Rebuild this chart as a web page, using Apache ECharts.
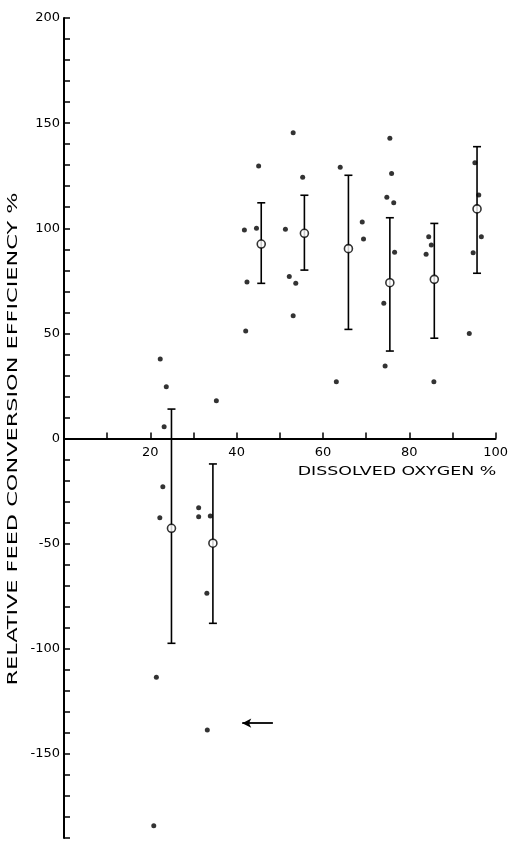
<!DOCTYPE html>
<html lang="en">
<head>
    <meta charset="UTF-8">
    <title>feed conversion</title>
    <script src="https://cdn.jsdelivr.net/npm/echarts@6/dist/echarts.min.js"></script>
    <style>
        html, body { margin: 0; padding: 0; background: #fff; }
    </style>
</head>
<body>
<div id="chart" style="width: 511px;height:845px;"></div>
<script type="text/javascript">

    // single observations [dissolved oxygen %, relative efficiency %]
    var points = [
        [22.3, 37.8], [23.7, 24.6], [23.2, 5.6], [22.9, -22.9], [22.2, -37.7], [21.4, -113.6], [20.8, -184.2],
        [35.3, 18.0], [31.2, -32.9], [31.2, -37.2], [33.9, -36.9], [33.1, -73.6], [33.2, -138.6],
        [45.1, 129.6], [41.8, 99.2], [44.6, 100], [42.4, 74.4], [42.1, 51.1],
        [53.1, 145.4], [55.3, 124.2], [51.3, 99.5], [52.2, 77], [53.7, 73.8], [53.1, 58.4],
        [64.0, 129], [69.1, 103], [69.4, 94.9], [63.1, 27.0],
        [75.5, 142.8], [75.9, 126.1], [74.8, 114.7], [76.4, 112.1], [76.6, 88.6], [74.1, 64.3], [74.4, 34.5],
        [84.5, 96], [85.1, 92], [83.9, 87.6], [85.7, 27.0],
        [95.2, 131.2], [96.1, 115.8], [96.7, 96], [94.8, 88.4], [93.9, 50.0]
    ];

    // group means
    var meanX = [24.9, 34.5, 45.7, 55.7, 65.9, 75.5, 85.8, 95.7];
    var meanY = [-42.7, -49.8, 92.5, 97.6, 90.3, 74.1, 75.7, 109.2];
    // error bar ends
    var barLow = [-97.4, -87.9, 73.8, 80.1, 51.9, 41.6, 47.7, 78.6];
    var barHigh = [14.0, -12.1, 112.1, 115.7, 125.2, 105.0, 102.3, 138.8];

    // arrow drawn on the figure
    var arrowFrom = [48.4, -135.4];
    var arrowTo = [41.3, -135.4];

    var xTickLabels = [20, 40, 60, 80, 100];
    var yTickLabels = [-150, -100, -50, 0, 50, 100, 150, 200];

    var means = [];
    var bars = [];
    for (var i = 0; i < meanX.length; i++) {
        means.push([meanX[i], meanY[i]]);
        bars.push([meanX[i], barLow[i], barHigh[i]]);
    }

    var font = 'DejaVu Sans';
    var yMin = -190, yMax = 200;
    var gridTop = 18, gridBottom = 7, chartH = 845;
    // x axis sits on y = 0, labels included
    var plotH = chartH - gridTop - gridBottom;
    var zeroOffset = -plotH * (0 - yMin) / (yMax - yMin);

    var myChart = echarts.init(document.getElementById('chart'));
    var option = {
        backgroundColor: '#fff',
        animation: false,
        grid: {
            left: 64,
            right: 14,
            top: gridTop,
            bottom: gridBottom
        },
        xAxis: {
            type: 'value',
            min: 0,
            max: 100,
            interval: 10,
            offset: zeroOffset,
            axisLine: {onZero: false, lineStyle: {color: '#000', width: 2}},
            axisTick: {inside: true, length: 6, lineStyle: {color: '#000', width: 1.5}},
            splitLine: {show: false},
            axisLabel: {
                color: '#000',
                fontFamily: font,
                fontSize: 13,
                margin: 8,
                formatter: function (v) {
                    return xTickLabels.indexOf(v) >= 0 ? String(v) : '';
                }
            }
        },
        yAxis: {
            type: 'value',
            min: yMin,
            max: yMax,
            interval: 10,
            axisLine: {lineStyle: {color: '#000', width: 2}},
            axisTick: {inside: true, length: 6, lineStyle: {color: '#000', width: 1.5}},
            splitLine: {show: false},
            axisLabel: {
                color: '#000',
                fontFamily: font,
                fontSize: 13,
                margin: 4,
                formatter: function (v) {
                    return yTickLabels.indexOf(v) >= 0 ? String(v) : '';
                }
            }
        },
        graphic: [
            {
                type: 'text',
                x: 13,
                y: 439,
                rotation: Math.PI / 2,
                scaleX: 1.6,
                style: {
                    text: 'RELATIVE FEED CONVERSION EFFICIENCY %',
                    fill: '#000',
                    font: '14px "DejaVu Sans"',
                    align: 'center',
                    verticalAlign: 'middle'
                }
            },
            {
                type: 'text',
                x: 397,
                y: 472,
                scaleX: 1.45,
                style: {
                    text: 'DISSOLVED OXYGEN %',
                    fill: '#000',
                    font: '12px "DejaVu Sans"',
                    align: 'center',
                    verticalAlign: 'middle'
                }
            }
        ],
        series: [
            {
                name: 'bars',
                type: 'custom',
                data: bars,
                encode: {x: 0, y: [1, 2]},
                z: 2,
                renderItem: function (params, api) {
                    var x = api.value(0);
                    var lo = api.coord([x, api.value(1)]);
                    var hi = api.coord([x, api.value(2)]);
                    var half = 4;
                    var st = {stroke: '#000', lineWidth: 1.6};
                    return {
                        type: 'group',
                        children: [
                            {type: 'line', shape: {x1: lo[0], y1: lo[1], x2: hi[0], y2: hi[1]}, style: st},
                            {type: 'line', shape: {x1: hi[0] - half, y1: hi[1], x2: hi[0] + half, y2: hi[1]}, style: st},
                            {type: 'line', shape: {x1: lo[0] - half, y1: lo[1], x2: lo[0] + half, y2: lo[1]}, style: st}
                        ]
                    };
                }
            },
            {
                name: 'points',
                type: 'scatter',
                data: points,
                symbol: 'circle',
                symbolSize: 5,
                z: 3,
                itemStyle: {color: '#000'},
                markLine: {
                    silent: true,
                    symbol: ['none', 'arrow'],
                    symbolSize: [7, 9],
                    label: {show: false},
                    lineStyle: {color: '#000', width: 1.8, type: 'solid'},
                    data: [[{coord: arrowFrom}, {coord: arrowTo}]]
                }
            },
            {
                name: 'means',
                type: 'scatter',
                data: means,
                symbol: 'circle',
                symbolSize: 8,
                z: 4,
                itemStyle: {color: '#fff', borderColor: '#000', borderWidth: 1.6}
            }
        ]
    };

    myChart.setOption(option);
</script>
</body>
</html>
